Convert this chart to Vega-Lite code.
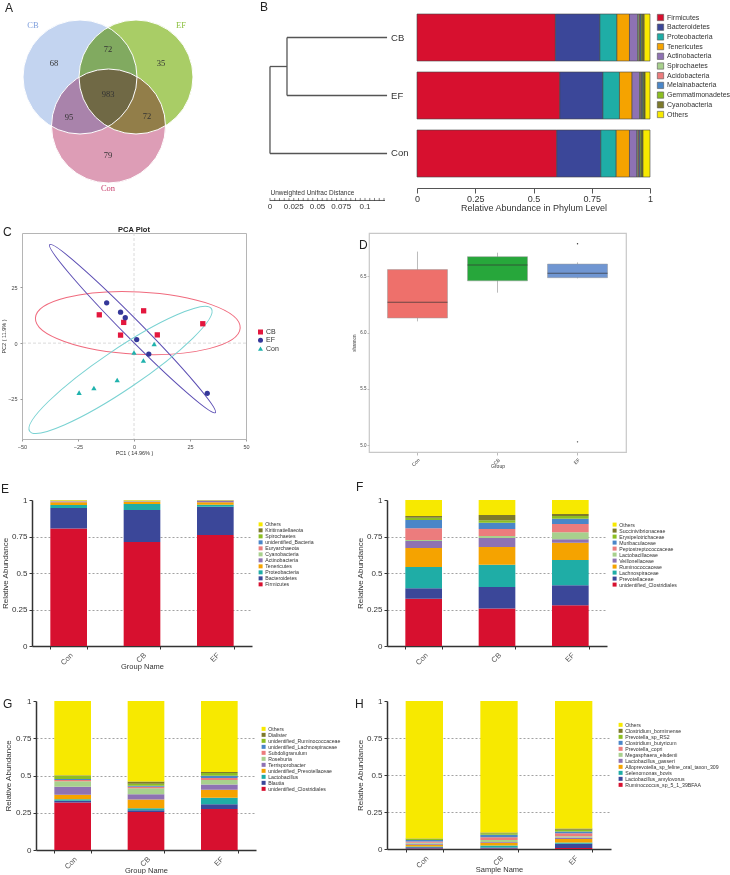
{
"$schema": "https://vega.github.io/schema/vega-lite/v6.json",
"padding": 0,
"background": "white",
"config": {"view": {"stroke": null}, "font": "Liberation Sans", "legend": {"padding": 0}, "axis": {"labelFlush": false}},
"bounds": "full",
"spacing": 0,
"resolve": {"scale": {"color": "independent", "shape": "independent"}, "legend": {"color": "independent", "shape": "independent"}},
"datasets": {
"one": [{"a": 1}],
"venncirc": [{"set": "CB", "cx": 65, "cy": 63}, {"set": "EF", "cx": 121, "cy": 63}, {"set": "Con", "cx": 93.5, "cy": 112}],
"venntxt": [{"lab": "CB", "tx": 18, "ty": 11, "kind": "CB"}, {"lab": "EF", "tx": 166, "ty": 11, "kind": "EF"}, {"lab": "Con", "tx": 93, "ty": 174, "kind": "Con"}, {"lab": "68", "tx": 39, "ty": 49, "kind": "n"}, {"lab": "72", "tx": 93, "ty": 35, "kind": "n"}, {"lab": "35", "tx": 146, "ty": 49, "kind": "n"}, {"lab": "983", "tx": 93, "ty": 80, "kind": "n"}, {"lab": "95", "tx": 54, "ty": 103, "kind": "n"}, {"lab": "72", "tx": 132, "ty": 102, "kind": "n"}, {"lab": "79", "tx": 93, "ty": 141, "kind": "n"}],
"tree": [{"x": 0.0179, "x2": 0.1232, "y": 1, "y2": 1}, {"x": 0.0179, "x2": 0.1232, "y": 2, "y2": 2}, {"x": 0.0179, "x2": 0.0179, "y": 1, "y2": 2}, {"x": 0, "x2": 0.0179, "y": 1.5, "y2": 1.5}, {"x": 0, "x2": 0.1232, "y": 3, "y2": 3}, {"x": 0, "x2": 0, "y": 1.5, "y2": 3}],
"leaves": [{"n": "CB", "d": 0.1232, "y": 1}, {"n": "EF", "d": 0.1232, "y": 2}, {"n": "Con", "d": 0.1232, "y": 3}],
"ruler": [{"r": 0}, {"r": 0.005}, {"r": 0.01}, {"r": 0.015}, {"r": 0.02}, {"r": 0.025}, {"r": 0.03}, {"r": 0.035}, {"r": 0.04}, {"r": 0.045}, {"r": 0.05}, {"r": 0.055}, {"r": 0.06}, {"r": 0.065}, {"r": 0.07}, {"r": 0.075}, {"r": 0.08}, {"r": 0.085}, {"r": 0.09}, {"r": 0.095}, {"r": 0.1}, {"r": 0.105}, {"r": 0.11}, {"r": 0.115}, {"r": 0.12}],
"rulerlab": [{"v": 0}, {"v": 0.025}, {"v": 0.05}, {"v": 0.075}, {"v": 0.1}],
"phy": [
{"g": "CB", "t": "Firmicutes", "v": 0.594, "k": 1}, {"g": "CB", "t": "Bacteroidetes", "v": 0.191, "k": 2}, {"g": "CB", "t": "Proteobacteria", "v": 0.073, "k": 3}, {"g": "CB", "t": "Tenericutes", "v": 0.054, "k": 4}, {"g": "CB", "t": "Actinobacteria", "v": 0.035, "k": 5}, {"g": "CB", "t": "Spirochaetes", "v": 0.006, "k": 6}, {"g": "CB", "t": "Acidobacteria", "v": 0.004, "k": 7}, {"g": "CB", "t": "Melainabacteria", "v": 0.005, "k": 8}, {"g": "CB", "t": "Gemmatimonadetes", "v": 0.005, "k": 9}, {"g": "CB", "t": "Cyanobacteria", "v": 0.008, "k": 10}, {"g": "CB", "t": "Others", "v": 0.025, "k": 11},
{"g": "EF", "t": "Firmicutes", "v": 0.613, "k": 1}, {"g": "EF", "t": "Bacteroidetes", "v": 0.185, "k": 2}, {"g": "EF", "t": "Proteobacteria", "v": 0.071, "k": 3}, {"g": "EF", "t": "Tenericutes", "v": 0.054, "k": 4}, {"g": "EF", "t": "Actinobacteria", "v": 0.032, "k": 5}, {"g": "EF", "t": "Spirochaetes", "v": 0.005, "k": 6}, {"g": "EF", "t": "Acidobacteria", "v": 0.004, "k": 7}, {"g": "EF", "t": "Melainabacteria", "v": 0.005, "k": 8}, {"g": "EF", "t": "Gemmatimonadetes", "v": 0.005, "k": 9}, {"g": "EF", "t": "Cyanobacteria", "v": 0.005, "k": 10}, {"g": "EF", "t": "Others", "v": 0.021, "k": 11},
{"g": "Con", "t": "Firmicutes", "v": 0.600, "k": 1}, {"g": "Con", "t": "Bacteroidetes", "v": 0.189, "k": 2}, {"g": "Con", "t": "Proteobacteria", "v": 0.066, "k": 3}, {"g": "Con", "t": "Tenericutes", "v": 0.057, "k": 4}, {"g": "Con", "t": "Actinobacteria", "v": 0.032, "k": 5}, {"g": "Con", "t": "Spirochaetes", "v": 0.005, "k": 6}, {"g": "Con", "t": "Acidobacteria", "v": 0.004, "k": 7}, {"g": "Con", "t": "Melainabacteria", "v": 0.005, "k": 8}, {"g": "Con", "t": "Gemmatimonadetes", "v": 0.006, "k": 9}, {"g": "Con", "t": "Cyanobacteria", "v": 0.006, "k": 10}, {"g": "Con", "t": "Others", "v": 0.030, "k": 11}],
"pca": [{"grp": "CB", "pc1": -15.5, "pc2": 12.7}, {"grp": "CB", "pc1": -4.6, "pc2": 9.3}, {"grp": "CB", "pc1": -6, "pc2": 3.6}, {"grp": "CB", "pc1": 4.3, "pc2": 14.5}, {"grp": "CB", "pc1": 10.4, "pc2": 3.7}, {"grp": "CB", "pc1": 30.7, "pc2": 8.7}, {"grp": "EF", "pc1": -12.2, "pc2": 18.1}, {"grp": "EF", "pc1": -6, "pc2": 13.9}, {"grp": "EF", "pc1": -3.9, "pc2": 11.4}, {"grp": "EF", "pc1": 1.2, "pc2": 1.6}, {"grp": "EF", "pc1": 6.6, "pc2": -4.9}, {"grp": "EF", "pc1": 32.7, "pc2": -22.5}, {"grp": "Con", "pc1": 9, "pc2": -0.4}, {"grp": "Con", "pc1": 0, "pc2": -4.2}, {"grp": "Con", "pc1": 4.2, "pc2": -7.8}, {"grp": "Con", "pc1": -7.5, "pc2": -16.5}, {"grp": "Con", "pc1": -17.9, "pc2": -20.1}, {"grp": "Con", "pc1": -24.5, "pc2": -22.2}],
"ell": [{"grp": "CB", "cx": 1.7, "cy": 9.0}, {"grp": "EF", "cx": -0.65, "cy": 6.5}, {"grp": "Con", "cx": -6.0, "cy": -12.0}],
"box": [{"g": "Con", "lo": 6.10, "q1": 6.13, "med": 6.27, "q3": 6.56, "hi": 6.72}, {"g": "CB", "lo": 6.355, "q1": 6.46, "med": 6.60, "q3": 6.675, "hi": 6.71}, {"g": "EF", "lo": 6.482, "q1": 6.488, "med": 6.527, "q3": 6.609, "hi": 6.624}],
"outl": [{"g": "EF", "v": 6.79}, {"g": "EF", "v": 5.03}],
"E": [
{"g": "Con", "t": "Firmicutes", "v": 0.804, "k": 1}, {"g": "Con", "t": "Bacteroidetes", "v": 0.141, "k": 2}, {"g": "Con", "t": "Proteobacteria", "v": 0.021, "k": 3}, {"g": "Con", "t": "Tenericutes", "v": 0.018, "k": 4}, {"g": "Con", "t": "Actinobacteria", "v": 0.006, "k": 5}, {"g": "Con", "t": "Cyanobacteria", "v": 0.002, "k": 6}, {"g": "Con", "t": "Euryarchaeota", "v": 0.001, "k": 7}, {"g": "Con", "t": "unidentified_Bacteria", "v": 0.001, "k": 8}, {"g": "Con", "t": "Spirochaetes", "v": 0.001, "k": 9}, {"g": "Con", "t": "Kiritimatiellaeota", "v": 0.001, "k": 10}, {"g": "Con", "t": "Others", "v": 0.004, "k": 11},
{"g": "CB", "t": "Firmicutes", "v": 0.712, "k": 1}, {"g": "CB", "t": "Bacteroidetes", "v": 0.220, "k": 2}, {"g": "CB", "t": "Proteobacteria", "v": 0.041, "k": 3}, {"g": "CB", "t": "Tenericutes", "v": 0.015, "k": 4}, {"g": "CB", "t": "Actinobacteria", "v": 0.004, "k": 5}, {"g": "CB", "t": "Cyanobacteria", "v": 0.001, "k": 6}, {"g": "CB", "t": "Euryarchaeota", "v": 0.001, "k": 7}, {"g": "CB", "t": "unidentified_Bacteria", "v": 0.001, "k": 8}, {"g": "CB", "t": "Spirochaetes", "v": 0.001, "k": 9}, {"g": "CB", "t": "Kiritimatiellaeota", "v": 0.001, "k": 10}, {"g": "CB", "t": "Others", "v": 0.003, "k": 11},
{"g": "EF", "t": "Firmicutes", "v": 0.760, "k": 1}, {"g": "EF", "t": "Bacteroidetes", "v": 0.194, "k": 2}, {"g": "EF", "t": "Proteobacteria", "v": 0.014, "k": 3}, {"g": "EF", "t": "Tenericutes", "v": 0.016, "k": 4}, {"g": "EF", "t": "Actinobacteria", "v": 0.009, "k": 5}, {"g": "EF", "t": "Cyanobacteria", "v": 0.001, "k": 6}, {"g": "EF", "t": "Euryarchaeota", "v": 0.001, "k": 7}, {"g": "EF", "t": "unidentified_Bacteria", "v": 0.001, "k": 8}, {"g": "EF", "t": "Spirochaetes", "v": 0.001, "k": 9}, {"g": "EF", "t": "Kiritimatiellaeota", "v": 0.001, "k": 10}, {"g": "EF", "t": "Others", "v": 0.002, "k": 11}],
"F": [
{"g": "Con", "t": "unidentified_Clostridiales", "v": 0.324, "k": 1}, {"g": "Con", "t": "Prevotellaceae", "v": 0.071, "k": 2}, {"g": "Con", "t": "Lachnospiraceae", "v": 0.146, "k": 3}, {"g": "Con", "t": "Ruminococcaceae", "v": 0.130, "k": 4}, {"g": "Con", "t": "Veillonellaceae", "v": 0.048, "k": 5}, {"g": "Con", "t": "Lactobacillaceae", "v": 0.007, "k": 6}, {"g": "Con", "t": "Peptostreptococcaceae", "v": 0.080, "k": 7}, {"g": "Con", "t": "Muribaculaceae", "v": 0.057, "k": 8}, {"g": "Con", "t": "Erysipelotrichaceae", "v": 0.016, "k": 9}, {"g": "Con", "t": "Succinivibrionaceae", "v": 0.011, "k": 10}, {"g": "Con", "t": "Others", "v": 0.110, "k": 11},
{"g": "CB", "t": "unidentified_Clostridiales", "v": 0.256, "k": 1}, {"g": "CB", "t": "Prevotellaceae", "v": 0.148, "k": 2}, {"g": "CB", "t": "Lachnospiraceae", "v": 0.153, "k": 3}, {"g": "CB", "t": "Ruminococcaceae", "v": 0.121, "k": 4}, {"g": "CB", "t": "Veillonellaceae", "v": 0.062, "k": 5}, {"g": "CB", "t": "Lactobacillaceae", "v": 0.013, "k": 6}, {"g": "CB", "t": "Peptostreptococcaceae", "v": 0.048, "k": 7}, {"g": "CB", "t": "Muribaculaceae", "v": 0.044, "k": 8}, {"g": "CB", "t": "Erysipelotrichaceae", "v": 0.016, "k": 9}, {"g": "CB", "t": "Succinivibrionaceae", "v": 0.036, "k": 10}, {"g": "CB", "t": "Others", "v": 0.103, "k": 11},
{"g": "EF", "t": "unidentified_Clostridiales", "v": 0.279, "k": 1}, {"g": "EF", "t": "Prevotellaceae", "v": 0.137, "k": 2}, {"g": "EF", "t": "Lachnospiraceae", "v": 0.173, "k": 3}, {"g": "EF", "t": "Ruminococcaceae", "v": 0.119, "k": 4}, {"g": "EF", "t": "Veillonellaceae", "v": 0.023, "k": 5}, {"g": "EF", "t": "Lactobacillaceae", "v": 0.048, "k": 6}, {"g": "EF", "t": "Peptostreptococcaceae", "v": 0.057, "k": 7}, {"g": "EF", "t": "Muribaculaceae", "v": 0.036, "k": 8}, {"g": "EF", "t": "Erysipelotrichaceae", "v": 0.018, "k": 9}, {"g": "EF", "t": "Succinivibrionaceae", "v": 0.014, "k": 10}, {"g": "EF", "t": "Others", "v": 0.096, "k": 11}],
"G": [
{"g": "Con", "t": "unidentified_Clostridiales", "v": 0.318, "k": 1}, {"g": "Con", "t": "Blautia", "v": 0.012, "k": 2}, {"g": "Con", "t": "Lactobacillus", "v": 0.011, "k": 3}, {"g": "Con", "t": "unidentified_Prevotellaceae", "v": 0.029, "k": 4}, {"g": "Con", "t": "Terrisporobacter", "v": 0.055, "k": 5}, {"g": "Con", "t": "Roseburia", "v": 0.036, "k": 6}, {"g": "Con", "t": "Subdoligranulum", "v": 0.009, "k": 7}, {"g": "Con", "t": "unidentified_Lachnospiraceae", "v": 0.007, "k": 8}, {"g": "Con", "t": "unidentified_Ruminococcaceae", "v": 0.021, "k": 9}, {"g": "Con", "t": "Dialister", "v": 0.003, "k": 10}, {"g": "Con", "t": "Others", "v": 0.499, "k": 11},
{"g": "CB", "t": "unidentified_Clostridiales", "v": 0.255, "k": 1}, {"g": "CB", "t": "Blautia", "v": 0.011, "k": 2}, {"g": "CB", "t": "Lactobacillus", "v": 0.014, "k": 3}, {"g": "CB", "t": "unidentified_Prevotellaceae", "v": 0.059, "k": 4}, {"g": "CB", "t": "Terrisporobacter", "v": 0.036, "k": 5}, {"g": "CB", "t": "Roseburia", "v": 0.039, "k": 6}, {"g": "CB", "t": "Subdoligranulum", "v": 0.011, "k": 7}, {"g": "CB", "t": "unidentified_Lachnospiraceae", "v": 0.007, "k": 8}, {"g": "CB", "t": "unidentified_Ruminococcaceae", "v": 0.013, "k": 9}, {"g": "CB", "t": "Dialister", "v": 0.014, "k": 10}, {"g": "CB", "t": "Others", "v": 0.541, "k": 11},
{"g": "EF", "t": "unidentified_Clostridiales", "v": 0.275, "k": 1}, {"g": "EF", "t": "Blautia", "v": 0.032, "k": 2}, {"g": "EF", "t": "Lactobacillus", "v": 0.043, "k": 3}, {"g": "EF", "t": "unidentified_Prevotellaceae", "v": 0.055, "k": 4}, {"g": "EF", "t": "Terrisporobacter", "v": 0.034, "k": 5}, {"g": "EF", "t": "Roseburia", "v": 0.031, "k": 6}, {"g": "EF", "t": "Subdoligranulum", "v": 0.014, "k": 7}, {"g": "EF", "t": "unidentified_Lachnospiraceae", "v": 0.014, "k": 8}, {"g": "EF", "t": "unidentified_Ruminococcaceae", "v": 0.018, "k": 9}, {"g": "EF", "t": "Dialister", "v": 0.007, "k": 10}, {"g": "EF", "t": "Others", "v": 0.477, "k": 11}],
"H": [
{"g": "Con", "t": "Ruminococcus_sp_5_1_39BFAA", "v": 0.003, "k": 1}, {"g": "Con", "t": "Lactobacillus_amylovorus", "v": 0.008, "k": 2}, {"g": "Con", "t": "Selenomonas_bovis", "v": 0.006, "k": 3}, {"g": "Con", "t": "Alloprevotella_sp_feline_oral_taxon_309", "v": 0.012, "k": 4}, {"g": "Con", "t": "Lactobacillus_gasseri", "v": 0.006, "k": 5}, {"g": "Con", "t": "Megasphaera_elsdenii", "v": 0.008, "k": 6}, {"g": "Con", "t": "Prevotella_copri", "v": 0.008, "k": 7}, {"g": "Con", "t": "Clostridium_butyricum", "v": 0.010, "k": 8}, {"g": "Con", "t": "Prevotella_sp_RS2", "v": 0.006, "k": 9}, {"g": "Con", "t": "Clostridium_bornimense", "v": 0.004, "k": 10}, {"g": "Con", "t": "Others", "v": 0.929, "k": 11},
{"g": "CB", "t": "Ruminococcus_sp_5_1_39BFAA", "v": 0.004, "k": 1}, {"g": "CB", "t": "Lactobacillus_amylovorus", "v": 0.006, "k": 2}, {"g": "CB", "t": "Selenomonas_bovis", "v": 0.014, "k": 3}, {"g": "CB", "t": "Alloprevotella_sp_feline_oral_taxon_309", "v": 0.018, "k": 4}, {"g": "CB", "t": "Lactobacillus_gasseri", "v": 0.006, "k": 5}, {"g": "CB", "t": "Megasphaera_elsdenii", "v": 0.012, "k": 6}, {"g": "CB", "t": "Prevotella_copri", "v": 0.020, "k": 7}, {"g": "CB", "t": "Clostridium_butyricum", "v": 0.016, "k": 8}, {"g": "CB", "t": "Prevotella_sp_RS2", "v": 0.010, "k": 9}, {"g": "CB", "t": "Clostridium_bornimense", "v": 0.006, "k": 10}, {"g": "CB", "t": "Others", "v": 0.888, "k": 11},
{"g": "EF", "t": "Ruminococcus_sp_5_1_39BFAA", "v": 0.006, "k": 1}, {"g": "EF", "t": "Lactobacillus_amylovorus", "v": 0.030, "k": 2}, {"g": "EF", "t": "Selenomonas_bovis", "v": 0.008, "k": 3}, {"g": "EF", "t": "Alloprevotella_sp_feline_oral_taxon_309", "v": 0.024, "k": 4}, {"g": "EF", "t": "Lactobacillus_gasseri", "v": 0.010, "k": 5}, {"g": "EF", "t": "Megasphaera_elsdenii", "v": 0.008, "k": 6}, {"g": "EF", "t": "Prevotella_copri", "v": 0.020, "k": 7}, {"g": "EF", "t": "Clostridium_butyricum", "v": 0.012, "k": 8}, {"g": "EF", "t": "Prevotella_sp_RS2", "v": 0.012, "k": 9}, {"g": "EF", "t": "Clostridium_bornimense", "v": 0.008, "k": 10}, {"g": "EF", "t": "Others", "v": 0.862, "k": 11}]
},
"vconcat": [
{"hconcat": [
{"width": 15, "height": 211, "data": {"name": "one"}, "mark": {"type": "point", "opacity": 0, "size": 0}, "encoding": {}},
{
"width": 185, "height": 177,
"title": {"text": "A", "anchor": "start", "frame": "group", "offset": -10, "dx": -10, "baseline": "alphabetic", "fontSize": 12, "fontWeight": "normal", "color": "#222"},
"resolve": {"scale": {"color": "independent"}},
"layer": [
 {"data": {"name": "venncirc"}, "mark": {"type": "point", "shape": "circle", "size": 12996, "filled": true, "opacity": 1, "blend": "multiply", "strokeWidth": 0},
  "encoding": {
   "x": {"field": "cx", "type": "quantitative", "scale": {"domain": [0, 185], "nice": false, "zero": false}, "axis": null},
   "y": {"field": "cy", "type": "quantitative", "scale": {"domain": [0, 177], "nice": false, "zero": false, "reverse": true}, "axis": null},
   "color": {"field": "set", "type": "nominal", "scale": {"domain": ["CB", "EF", "Con"], "range": ["#c3d4f0", "#a9cd66", "#dd9db6"]}, "legend": null}}},
 {"data": {"name": "venncirc"}, "mark": {"type": "point", "shape": "circle", "size": 12996, "filled": false, "stroke": "#ffffff", "strokeWidth": 1, "opacity": 1},
  "encoding": {"x": {"field": "cx", "type": "quantitative", "axis": null}, "y": {"field": "cy", "type": "quantitative", "axis": null}}},
 {"data": {"name": "venntxt"}, "mark": {"type": "text", "font": "Liberation Serif", "fontSize": 8.5},
  "encoding": {"x": {"field": "tx", "type": "quantitative", "axis": null}, "y": {"field": "ty", "type": "quantitative", "axis": null}, "text": {"field": "lab"},
   "color": {"field": "kind", "type": "nominal", "scale": {"domain": ["n", "CB", "EF", "Con"], "range": ["#333333", "#7f9fdc", "#8cc040", "#c8406e"]}, "legend": null}}}
]},
{"width": 62, "height": 1, "data": {"name": "one"}, "mark": {"type": "point", "opacity": 0, "size": 0}, "encoding": {}},
{
"width": 126, "height": 187,
"title": {"text": "B", "anchor": "start", "frame": "group", "offset": -8.5, "dx": -2, "baseline": "alphabetic", "fontSize": 12, "fontWeight": "normal", "color": "#222"},
"layer": [
 {"data": {"name": "tree"}, "mark": {"type": "rule", "color": "#555555", "strokeWidth": 1.3},
  "encoding": {
   "x": {"field": "x", "type": "quantitative", "scale": {"domain": [-0.0084, 0.1242], "nice": false, "zero": false},
         "axis": {"values": [0, 0.05, 0.1], "labels": false, "domain": false, "ticks": false, "grid": false, "title": "Unweighted Unifrac Distance", "titleFontSize": 6.5, "titleFontWeight": "normal", "titleColor": "#333", "titleX": 8, "titleY": -7, "titleAlign": "left", "titleBaseline": "alphabetic"}},
   "x2": {"field": "x2"},
   "y": {"field": "y", "type": "quantitative", "scale": {"domain": [0.5948, 3.819], "nice": false, "zero": false, "reverse": true}, "axis": null},
   "y2": {"field": "y2"}}},
 {"data": {"name": "leaves"}, "mark": {"type": "text", "align": "left", "baseline": "middle", "dx": 4, "fontSize": 9.5, "color": "#333"},
  "encoding": {"x": {"field": "d", "type": "quantitative"}, "y": {"field": "y", "type": "quantitative", "axis": null}, "text": {"field": "n"}}},
 {"data": {"name": "ruler"}, "mark": {"type": "rule", "color": "#333", "strokeWidth": 0.6},
  "encoding": {"x": {"field": "r", "type": "quantitative"}, "y": {"datum": 3.767}, "y2": {"datum": 3.819}}},
 {"data": {"name": "one"}, "mark": {"type": "rule", "color": "#333", "strokeWidth": 0.8},
  "encoding": {"x": {"datum": 0}, "x2": {"datum": 0.121}, "y": {"datum": 3.81}}},
 {"data": {"name": "rulerlab"}, "mark": {"type": "text", "baseline": "middle", "align": "center", "dy": 6, "fontSize": 8, "color": "#333"},
  "encoding": {"x": {"field": "v", "type": "quantitative"}, "y": {"datum": 3.819}, "text": {"field": "v", "type": "quantitative", "format": ".3~f"}}}
]},
{"width": 29, "height": 1, "data": {"name": "one"}, "mark": {"type": "point", "opacity": 0, "size": 0}, "encoding": {}},
{
"width": 233, "height": 163,
"data": {"name": "phy"},
"mark": {"type": "bar", "stroke": "#444", "strokeWidth": 0.6},
"encoding": {
 "y": {"field": "g", "type": "nominal", "sort": ["CB", "EF", "Con"], "scale": {"paddingInner": 0.19, "paddingOuter": 0}, "axis": null},
 "x": {"field": "v", "type": "quantitative", "stack": "zero", "scale": {"domain": [0, 1], "nice": false},
       "axis": {"values": [0, 0.25, 0.5, 0.75, 1], "format": ".2~f", "offset": 11, "grid": false, "domainColor": "#555", "tickColor": "#555", "tickSize": 5, "labelFontSize": 9, "labelColor": "#333", "labelPadding": 1, "title": "Relative Abundance in Phylum Level", "titleFontSize": 9, "titleFontWeight": "normal", "titleColor": "#333", "titlePadding": 0}},
 "color": {"field": "t", "type": "nominal",
   "scale": {"domain": ["Firmicutes", "Bacteroidetes", "Proteobacteria", "Tenericutes", "Actinobacteria", "Spirochaetes", "Acidobacteria", "Melainabacteria", "Gemmatimonadetes", "Cyanobacteria", "Others"],
             "range": ["#d7102f", "#3b4799", "#1fada6", "#f5a300", "#8e72b3", "#a8d08d", "#ec7c7d", "#4a86c8", "#8cbe22", "#7d7a2b", "#f7e900"]},
   "legend": {"orient": "none", "legendX": 240, "legendY": 0, "title": null, "symbolType": "square", "symbolSize": 40, "symbolStrokeColor": "#555", "symbolStrokeWidth": 0.6, "labelFontSize": 7, "labelColor": "#333", "rowPadding": 0.7, "labelOffset": 3}},
 "order": {"field": "k", "type": "quantitative"}
}}
], "spacing": 0, "bounds": "flush", "resolve": {"scale": {"color": "independent", "shape": "independent"}, "legend": {"color": "independent", "shape": "independent"}}},

{"hconcat": [
{"width": 22, "height": 248, "data": {"name": "one"}, "mark": {"type": "point", "opacity": 0, "size": 0}, "encoding": {}},
{
"width": 224, "height": 206,
"view": {"stroke": "#b5b5b5", "strokeWidth": 1},
"title": {"text": "C", "anchor": "start", "frame": "group", "offset": -22.5, "dx": -19, "baseline": "alphabetic", "fontSize": 12, "fontWeight": "normal", "color": "#222"},
"layer": [
 {"data": {"name": "one"}, "mark": {"type": "rule", "color": "#d0d0d0", "strokeDash": [3, 2], "strokeWidth": 0.8}, "encoding": {"x": {"datum": 0}}},
 {"data": {"name": "one"}, "mark": {"type": "rule", "color": "#d0d0d0", "strokeDash": [3, 2], "strokeWidth": 0.8}, "encoding": {"y": {"datum": 0}}},
 {"data": {"name": "ell"}, "transform": [{"filter": "datum.grp == 'CB'"}],
  "mark": {"type": "point", "shape": "M 1 0 C 1 0.168 0.5523 0.304 0 0.304 C -0.5523 0.304 -1 0.168 -1 0 C -1 -0.168 -0.5523 -0.304 0 -0.304 C 0.5523 -0.304 1 -0.168 1 0 Z", "size": 42025, "angle": 2.8, "filled": false, "stroke": "#f06b7e", "strokeWidth": 1, "opacity": 1},
  "encoding": {"x": {"field": "cx", "type": "quantitative"}, "y": {"field": "cy", "type": "quantitative"}}},
 {"data": {"name": "ell"}, "transform": [{"filter": "datum.grp == 'EF'"}],
  "mark": {"type": "point", "shape": "M 1 0 C 1 0.042 0.5523 0.076 0 0.076 C -0.5523 0.076 -1 0.042 -1 0 C -1 -0.042 -0.5523 -0.076 0 -0.076 C 0.5523 -0.076 1 -0.042 1 0 Z", "size": 55601, "angle": 45.4, "filled": false, "stroke": "#5b4db3", "strokeWidth": 1, "opacity": 1},
  "encoding": {"x": {"field": "cx", "type": "quantitative"}, "y": {"field": "cy", "type": "quantitative"}}},
 {"data": {"name": "ell"}, "transform": [{"filter": "datum.grp == 'Con'"}],
  "mark": {"type": "point", "shape": "M 1 0 C 1 0.1008 0.5523 0.1825 0 0.1825 C -0.5523 0.1825 -1 0.1008 -1 0 C -1 -0.1008 -0.5523 -0.1825 0 -0.1825 C 0.5523 -0.1825 1 -0.1008 1 0 Z", "size": 48050, "angle": -34, "filled": false, "stroke": "#79d2d2", "strokeWidth": 1, "opacity": 1},
  "encoding": {"x": {"field": "cx", "type": "quantitative"}, "y": {"field": "cy", "type": "quantitative"}}},
 {"data": {"name": "pca"}, "mark": {"type": "point", "filled": true, "size": 28, "opacity": 1},
  "encoding": {
   "x": {"field": "pc1", "type": "quantitative", "scale": {"domain": [-50, 50], "nice": false, "zero": false},
         "axis": {"values": [-50, -25, 0, 25, 50], "grid": false, "domain": false, "tickSize": 2, "tickColor": "#999", "labelFontSize": 5.5, "labelColor": "#444", "labelPadding": 3, "title": "PC1 ( 14.96% )", "titleFontSize": 5.5, "titleFontWeight": "normal", "titleColor": "#333", "titlePadding": 1}},
   "y": {"field": "pc2", "type": "quantitative", "scale": {"domain": [-43, 49.4], "nice": false, "zero": false},
         "axis": {"values": [-25, 0, 25], "grid": false, "domain": false, "tickSize": 2, "tickColor": "#999", "labelFontSize": 5.5, "labelColor": "#444", "labelPadding": 3, "title": "PC2 ( 11.9% )", "titleFontSize": 5.5, "titleFontWeight": "normal", "titleColor": "#333", "titlePadding": 1}},
   "color": {"field": "grp", "type": "nominal", "scale": {"domain": ["CB", "EF", "Con"], "range": ["#e3173e", "#343799", "#1fb2ad"]},
     "legend": {"orient": "none", "legendX": 235, "legendY": 95.5, "title": null, "labelFontSize": 7, "labelColor": "#333", "symbolSize": 25, "rowPadding": 0.3, "labelOffset": 2, "symbolStrokeWidth": 0}},
   "shape": {"field": "grp", "type": "nominal", "scale": {"domain": ["CB", "EF", "Con"], "range": ["square", "circle", "triangle-up"]},
     "legend": {"orient": "none", "legendX": 235, "legendY": 95.5, "title": null, "labelFontSize": 7, "labelColor": "#333", "symbolSize": 25, "rowPadding": 0.3, "labelOffset": 2, "symbolStrokeWidth": 0}}}},
 {"data": {"name": "one"}, "mark": {"type": "text", "text": "PCA Plot", "fontSize": 7.5, "fontWeight": "bold", "baseline": "alphabetic", "dy": -1.5, "color": "#222"},
  "encoding": {"x": {"datum": 0}, "y": {"datum": 49.4}}}
]},
{"width": 123, "height": 1, "data": {"name": "one"}, "mark": {"type": "point", "opacity": 0, "size": 0}, "encoding": {}},
{
"width": 257, "height": 219,
"view": {"stroke": "#c8c8c8", "strokeWidth": 1.2},
"title": {"text": "D", "anchor": "start", "frame": "group", "offset": -28, "dx": -10, "baseline": "alphabetic", "fontSize": 12, "fontWeight": "normal", "color": "#222"},
"data": {"name": "box"},
"encoding": {"x": {"field": "g", "type": "nominal", "sort": ["Con", "CB", "EF"], "scale": {"paddingInner": 0.25, "paddingOuter": 0.231},
  "axis": {"labelAngle": -45, "labelFontSize": 5, "labelColor": "#444", "tickSize": 3, "tickColor": "#bbb", "domainColor": "#c8c8c8", "domainWidth": 1.2, "title": "Group", "titleFontSize": 5, "titleFontWeight": "normal", "titlePadding": -4, "titleColor": "#333"}}},
"layer": [
 {"mark": {"type": "rule", "color": "#aaaaaa", "strokeWidth": 0.8},
  "encoding": {"y": {"field": "lo", "type": "quantitative", "title": "shannon", "scale": {"domain": [4.94, 6.885], "nice": false, "zero": false},
    "axis": {"values": [5, 5.5, 6, 6.5], "format": ".1f", "grid": false, "domain": false, "tickSize": 2, "tickColor": "#bbb", "labelFontSize": 4.5, "labelColor": "#444", "labelPadding": 1, "titleFontSize": 4.5, "titleFontWeight": "normal", "titleColor": "#444", "titlePadding": 3}},
   "y2": {"field": "hi"}}},
 {"mark": {"type": "bar", "stroke": "#999", "strokeWidth": 0.5},
  "encoding": {"y": {"field": "q1", "type": "quantitative", "title": "shannon"}, "y2": {"field": "q3"},
   "color": {"field": "g", "type": "nominal", "scale": {"domain": ["Con", "CB", "EF"], "range": ["#ee706b", "#27a73b", "#7096d2"]}, "legend": null}}},
 {"mark": {"type": "tick", "color": "#333", "thickness": 1, "size": 60},
  "encoding": {"y": {"field": "med", "type": "quantitative", "title": "shannon"}}},
 {"data": {"name": "outl"}, "mark": {"type": "point", "filled": true, "size": 2, "color": "#333", "opacity": 1},
  "encoding": {"y": {"field": "v", "type": "quantitative", "title": "shannon"}}}
]}
], "spacing": 0, "bounds": "flush", "resolve": {"scale": {"color": "independent", "shape": "independent"}, "legend": {"color": "independent", "shape": "independent"}}},

{"hconcat": [
{"width": 32, "height": 197, "data": {"name": "one"}, "mark": {"type": "point", "opacity": 0, "size": 0}, "encoding": {}},
{
"width": 220, "height": 146,
"title": {"text": "E", "anchor": "start", "frame": "group", "offset": -9, "dx": -31, "baseline": "alphabetic", "fontSize": 12, "fontWeight": "normal", "color": "#222"},
"data": {"name": "E"},
"mark": {"type": "bar"},
"encoding": {
 "x": {"field": "g", "type": "nominal", "sort": ["Con", "CB", "EF"], "scale": {"paddingInner": 0.5, "paddingOuter": 0.25},
   "axis": {"labelAngle": -45, "tickBand": "extent", "domainColor": "#333", "domainWidth": 1.5, "tickColor": "#333", "tickSize": 3, "labelFontSize": 7.5, "labelColor": "#555", "labelPadding": 2, "title": "Group Name", "titleFontSize": 7.5, "titleFontWeight": "normal", "titleColor": "#333", "titlePadding": -4}},
 "y": {"field": "v", "type": "quantitative", "stack": "zero", "scale": {"domain": [0, 1], "nice": false},
   "axis": {"values": [0, 0.25, 0.5, 0.75, 1], "format": ".2~f", "grid": true, "gridDash": [2, 2], "gridColor": "#8a8a8a", "gridWidth": 0.8, "gridOpacity": {"condition": {"test": "datum.value == 0 || datum.value == 1", "value": 0}, "value": 1}, "domainColor": "#333", "domainWidth": 1.5, "tickColor": "#333", "tickSize": 3, "labelFontSize": 8, "labelColor": "#333", "labelPadding": 2, "title": "Relative Abundance", "titleFontSize": 8, "titleFontWeight": "normal", "titleColor": "#333", "titlePadding": 2}},
 "color": {"field": "t", "type": "nominal",
   "scale": {"domain": ["Others", "Kiritimatiellaeota", "Spirochaetes", "unidentified_Bacteria", "Euryarchaeota", "Cyanobacteria", "Actinobacteria", "Tenericutes", "Proteobacteria", "Bacteroidetes", "Firmicutes"],
             "range": ["#f7e900", "#7d7a2b", "#8cbe22", "#4a86c8", "#ec7c7d", "#a8d08d", "#8e72b3", "#f5a300", "#1fada6", "#3b4799", "#d7102f"]},
   "legend": {"orient": "none", "legendX": 226, "legendY": 21.75, "title": null, "symbolType": "square", "symbolSize": 16, "symbolStrokeWidth": 0, "labelFontSize": 5.2, "labelColor": "#333", "rowPadding": -0.6, "labelOffset": 2}},
 "order": {"field": "k", "type": "quantitative"}
}},
{"width": 135, "height": 1, "data": {"name": "one"}, "mark": {"type": "point", "opacity": 0, "size": 0}, "encoding": {}},
{
"width": 220, "height": 146,
"title": {"text": "F", "anchor": "start", "frame": "group", "offset": -7, "dx": -31, "baseline": "alphabetic", "fontSize": 12, "fontWeight": "normal", "color": "#222"},
"data": {"name": "F"},
"mark": {"type": "bar"},
"encoding": {
 "x": {"field": "g", "type": "nominal", "sort": ["Con", "CB", "EF"], "scale": {"paddingInner": 0.5, "paddingOuter": 0.25},
   "axis": {"labelAngle": -45, "tickBand": "extent", "domainColor": "#333", "domainWidth": 1.5, "tickColor": "#333", "tickSize": 3, "labelFontSize": 7.5, "labelColor": "#555", "labelPadding": 2, "title": null}},
 "y": {"field": "v", "type": "quantitative", "stack": "zero", "scale": {"domain": [0, 1], "nice": false},
   "axis": {"values": [0, 0.25, 0.5, 0.75, 1], "format": ".2~f", "grid": true, "gridDash": [2, 2], "gridColor": "#8a8a8a", "gridWidth": 0.8, "gridOpacity": {"condition": {"test": "datum.value == 0 || datum.value == 1", "value": 0}, "value": 1}, "domainColor": "#333", "domainWidth": 1.5, "tickColor": "#333", "tickSize": 3, "labelFontSize": 8, "labelColor": "#333", "labelPadding": 2, "title": "Relative Abundance", "titleFontSize": 8, "titleFontWeight": "normal", "titleColor": "#333", "titlePadding": 2}},
 "color": {"field": "t", "type": "nominal",
   "scale": {"domain": ["Others", "Succinivibrionaceae", "Erysipelotrichaceae", "Muribaculaceae", "Peptostreptococcaceae", "Lactobacillaceae", "Veillonellaceae", "Ruminococcaceae", "Lachnospiraceae", "Prevotellaceae", "unidentified_Clostridiales"],
             "range": ["#f7e900", "#7d7a2b", "#8cbe22", "#4a86c8", "#ec7c7d", "#a8d08d", "#8e72b3", "#f5a300", "#1fada6", "#3b4799", "#d7102f"]},
   "legend": {"orient": "none", "legendX": 225, "legendY": 22, "title": null, "symbolType": "square", "symbolSize": 16, "symbolStrokeWidth": 0, "labelFontSize": 5.2, "labelColor": "#333", "rowPadding": -0.6, "labelOffset": 2}},
 "order": {"field": "k", "type": "quantitative"}
}}
], "spacing": 0, "bounds": "flush", "resolve": {"scale": {"color": "independent", "shape": "independent"}, "legend": {"color": "independent", "shape": "independent"}}},

{"hconcat": [
{"width": 36, "height": 1, "data": {"name": "one"}, "mark": {"type": "point", "opacity": 0, "size": 0}, "encoding": {}},
{
"width": 220, "height": 149,
"title": {"text": "G", "anchor": "start", "frame": "group", "offset": -23, "dx": -33, "baseline": "alphabetic", "fontSize": 12, "fontWeight": "normal", "color": "#222"},
"data": {"name": "G"},
"mark": {"type": "bar"},
"encoding": {
 "x": {"field": "g", "type": "nominal", "sort": ["Con", "CB", "EF"], "scale": {"paddingInner": 0.5, "paddingOuter": 0.25},
   "axis": {"labelAngle": -45, "tickBand": "extent", "domainColor": "#333", "domainWidth": 1.5, "tickColor": "#333", "tickSize": 3, "labelFontSize": 7.5, "labelColor": "#555", "labelPadding": 2, "title": "Group Name", "titleFontSize": 7.5, "titleFontWeight": "normal", "titleColor": "#333", "titlePadding": -4}},
 "y": {"field": "v", "type": "quantitative", "stack": "zero", "scale": {"domain": [0, 1], "nice": false},
   "axis": {"values": [0, 0.25, 0.5, 0.75, 1], "format": ".2~f", "grid": true, "gridDash": [2, 2], "gridColor": "#8a8a8a", "gridWidth": 0.8, "gridOpacity": {"condition": {"test": "datum.value == 0 || datum.value == 1", "value": 0}, "value": 1}, "domainColor": "#333", "domainWidth": 1.5, "tickColor": "#333", "tickSize": 3, "labelFontSize": 8, "labelColor": "#333", "labelPadding": 2, "title": "Relative Abundance", "titleFontSize": 8, "titleFontWeight": "normal", "titleColor": "#333", "titlePadding": 3}},
 "color": {"field": "t", "type": "nominal",
   "scale": {"domain": ["Others", "Dialister", "unidentified_Ruminococcaceae", "unidentified_Lachnospiraceae", "Subdoligranulum", "Roseburia", "Terrisporobacter", "unidentified_Prevotellaceae", "Lactobacillus", "Blautia", "unidentified_Clostridiales"],
             "range": ["#f7e900", "#7d7a2b", "#8cbe22", "#4a86c8", "#ec7c7d", "#a8d08d", "#8e72b3", "#f5a300", "#1fada6", "#3b4799", "#d7102f"]},
   "legend": {"orient": "none", "legendX": 225, "legendY": 25.25, "title": null, "symbolType": "square", "symbolSize": 16, "symbolStrokeWidth": 0, "labelFontSize": 5.2, "labelColor": "#333", "rowPadding": -0.6, "labelOffset": 2}},
 "order": {"field": "k", "type": "quantitative"}
}},
{"width": 131, "height": 1, "data": {"name": "one"}, "mark": {"type": "point", "opacity": 0, "size": 0}, "encoding": {}},
{
"width": 224, "height": 148,
"title": {"text": "H", "anchor": "start", "frame": "group", "offset": -23, "dx": -32, "baseline": "alphabetic", "fontSize": 12, "fontWeight": "normal", "color": "#222"},
"data": {"name": "H"},
"mark": {"type": "bar"},
"encoding": {
 "x": {"field": "g", "type": "nominal", "sort": ["Con", "CB", "EF"], "scale": {"paddingInner": 0.5, "paddingOuter": 0.25},
   "axis": {"labelAngle": -45, "tickBand": "extent", "domainColor": "#333", "domainWidth": 1.5, "tickColor": "#333", "tickSize": 3, "labelFontSize": 7.5, "labelColor": "#555", "labelPadding": 2, "title": "Sample Name", "titleFontSize": 7.5, "titleFontWeight": "normal", "titleColor": "#333", "titlePadding": -4}},
 "y": {"field": "v", "type": "quantitative", "stack": "zero", "scale": {"domain": [0, 1], "nice": false},
   "axis": {"values": [0, 0.25, 0.5, 0.75, 1], "format": ".2~f", "grid": true, "gridDash": [2, 2], "gridColor": "#8a8a8a", "gridWidth": 0.8, "gridOpacity": {"condition": {"test": "datum.value == 0 || datum.value == 1", "value": 0}, "value": 1}, "domainColor": "#333", "domainWidth": 1.5, "tickColor": "#333", "tickSize": 3, "labelFontSize": 8, "labelColor": "#333", "labelPadding": 2, "title": "Relative Abundance", "titleFontSize": 8, "titleFontWeight": "normal", "titleColor": "#333", "titlePadding": 2}},
 "color": {"field": "t", "type": "nominal",
   "scale": {"domain": ["Others", "Clostridium_bornimense", "Prevotella_sp_RS2", "Clostridium_butyricum", "Prevotella_copri", "Megasphaera_elsdenii", "Lactobacillus_gasseri", "Alloprevotella_sp_feline_oral_taxon_309", "Selenomonas_bovis", "Lactobacillus_amylovorus", "Ruminococcus_sp_5_1_39BFAA"],
             "range": ["#f7e900", "#7d7a2b", "#8cbe22", "#4a86c8", "#ec7c7d", "#a8d08d", "#8e72b3", "#f5a300", "#1fada6", "#3b4799", "#d7102f"]},
   "legend": {"orient": "none", "legendX": 231, "legendY": 21.25, "title": null, "symbolType": "square", "symbolSize": 16, "symbolStrokeWidth": 0, "labelFontSize": 5.2, "labelColor": "#333", "rowPadding": -0.4, "labelOffset": 2}},
 "order": {"field": "k", "type": "quantitative"}
}}
], "spacing": 0, "bounds": "flush", "resolve": {"scale": {"color": "independent", "shape": "independent"}, "legend": {"color": "independent", "shape": "independent"}}}
]
}
